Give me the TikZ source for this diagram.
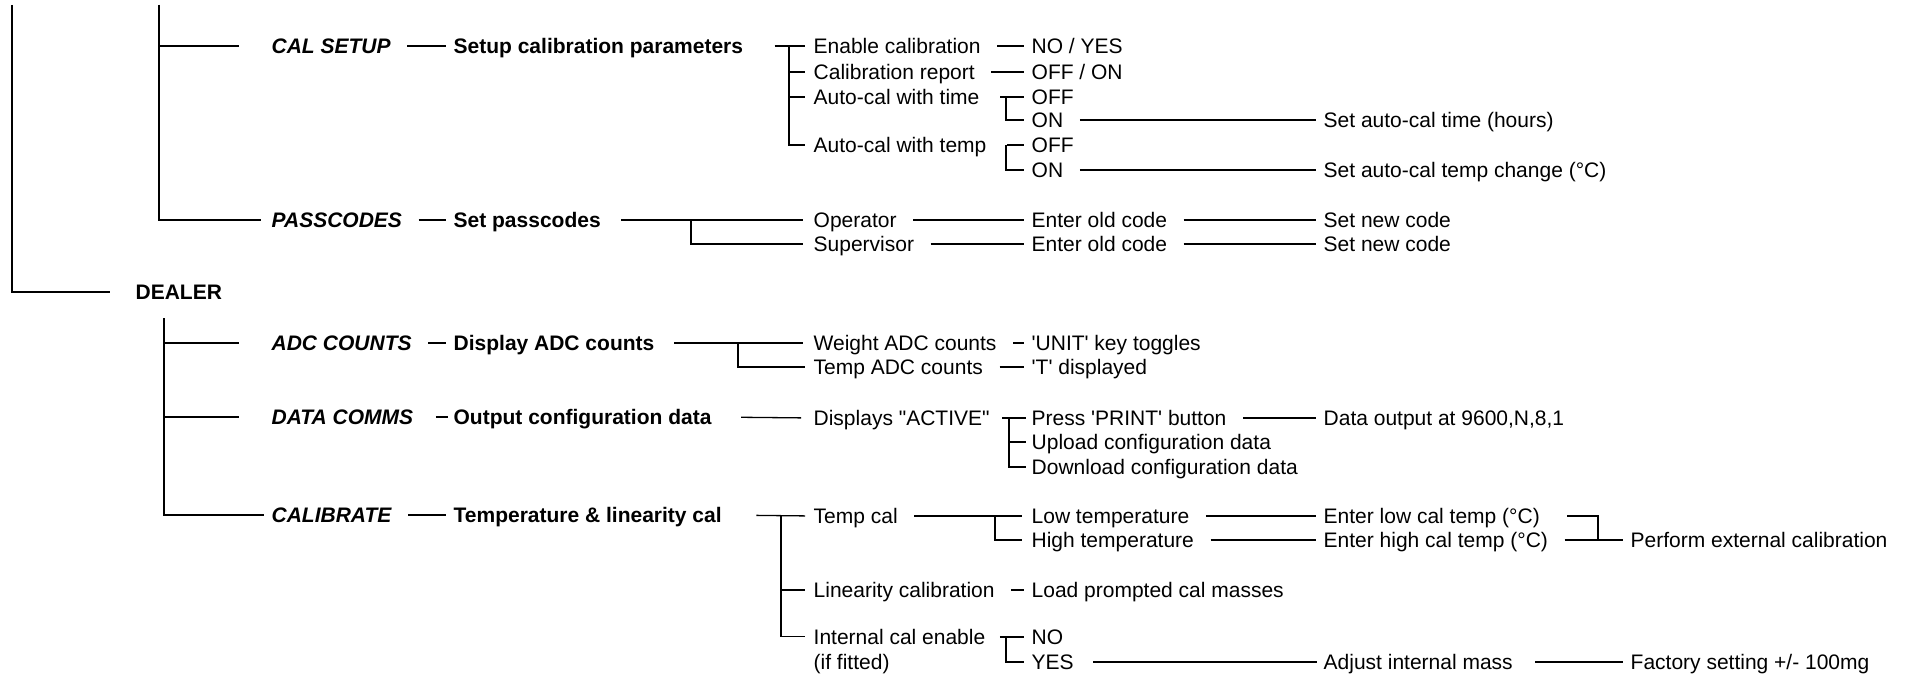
\documentclass[tikz,border=0pt]{standalone}
\usepackage{fontspec}
\setmainfont{Liberation Sans}
\newcommand{\menufont}{\fontsize{21}{25}\selectfont}

\begin{document}
\begin{tikzpicture}[x=1pt,y=-1pt,line width=1.3pt,
    item/.style={font=\menufont,inner sep=0pt,text height=15pt,text depth=0pt,anchor=west},
    head/.style={item,font=\menufont\bfseries},
    menu/.style={item,font=\menufont\bfseries\itshape},
    link/.style={shorten <=16pt,shorten >=7pt},
    stem/.style={shorten >=8pt},
  ]
  \useasboundingbox (0,0) rectangle (1910,676);

  % level headings
  \node[head] (dealer)    at (135,292) {DEALER};
  \node[menu] (calsetup)  at (271,46)  {CAL SETUP};
  \node[menu] (passcodes) at (271,220) {PASSCODES};
  \node[menu] (adccounts) at (271,343) {ADC COUNTS};
  \node[menu] (datacomms) at (271,417) {DATA COMMS};
  \node[menu] (calibrate) at (271,515) {CALIBRATE};

  \node[head] (setupcal) at (453,46)  {Setup calibration parameters};
  \node[head] (setpass)  at (453,220) {Set passcodes};
  \node[head] (dispadc)  at (453,343) {Display ADC counts};
  \node[head] (outconf)  at (453,417) {Output configuration data};
  \node[head] (tempcal)  at (453,515) {Temperature \& linearity cal};

  % cal setup
  \node[item] (enable)    at (813,46)   {Enable calibration};
  \node[item] (calreport) at (813,72)   {Calibration report};
  \node[item] (autotime)  at (813,97)   {Auto-cal with time};
  \node[item] (autotemp)  at (813,145)  {Auto-cal with temp};
  \node[item] (noyes)     at (1031,46)  {NO / YES};
  \node[item] (offon)     at (1031,72)  {OFF / ON};
  \node[item] (offtime)   at (1031,97)  {OFF};
  \node[item] (ontime)    at (1031,120) {ON};
  \node[item] (offtemp)   at (1031,145) {OFF};
  \node[item] (ontemp)    at (1031,170) {ON};
  \node[item] (settime)   at (1323,120) {Set auto-cal time (hours)};
  \node[item] (settemp)   at (1323,170) {Set auto-cal temp change (°C)};

  % passcodes
  \node[item] (operator)   at (813,220)  {Operator};
  \node[item] (supervisor) at (813,244)  {Supervisor};
  \node[item] (oldop)      at (1031,220) {Enter old code};
  \node[item] (oldsup)     at (1031,244) {Enter old code};
  \node[item] (newop)      at (1323,220) {Set new code};
  \node[item] (newsup)     at (1323,244) {Set new code};

  % adc counts
  \node[item] (weightadc) at (813,343)  {Weight ADC counts};
  \node[item] (tempadc)   at (813,367)  {Temp ADC counts};
  \node[item] (unitkey)   at (1031,343) {\textquotesingle UNIT\textquotesingle{} key toggles};
  \node[item] (tdisp)     at (1031,367) {\textquotesingle T\textquotesingle{} displayed};

  % data comms
  \node[item] (active)   at (813,418)  {Displays \textquotedbl ACTIVE\textquotedbl};
  \node[item] (press)    at (1031,418) {Press \textquotesingle PRINT\textquotesingle{} button};
  \node[item] (upload)   at (1031,442) {Upload configuration data};
  \node[item] (download) at (1031,467) {Download configuration data};
  \node[item] (dataout)  at (1323,418) {Data output at 9600,N,8,1};

  % calibrate
  \node[item] (tcal)      at (813,516)  {Temp cal};
  \node[item] (linearity) at (813,590)  {Linearity calibration};
  \node[font=\menufont,inner sep=0pt,align=left,anchor=north west] (internal)
        at (813,629) {Internal cal enable\\(if fitted)};
  \node[item] (lowtemp)   at (1031,516) {Low temperature};
  \node[item] (hightemp)  at (1031,540) {High temperature};
  \node[item] (loadmass)  at (1031,590) {Load prompted cal masses};
  \node[item] (intno)     at (1031,637) {NO};
  \node[item] (intyes)    at (1031,662) {YES};
  \node[item] (enterlow)  at (1323,516) {Enter low cal temp (°C)};
  \node[item] (enterhigh) at (1323,540) {Enter high cal temp (°C)};
  \node[item] (adjust)    at (1323,662) {Adjust internal mass};
  \node[item] (perform)   at (1630,540) {Perform external calibration};
  \node[item] (factory)   at (1630,662) {Factory setting +/- 100mg};

  % trunks
  \coordinate (top)  at (12,5);
  \coordinate (user) at (159,5);
  \coordinate (dtop) at (164,318);
  \draw[stem,shorten >=25pt] (top) |- (dealer.west);
  \draw[stem,shorten >=32pt] (user) |- (calsetup.west);
  \draw[stem,shorten >=10pt] (user) |- (passcodes.west);
  \draw[stem,shorten >=32pt] (dtop) |- (adccounts.west);
  \draw[stem,shorten >=32pt] (dtop) |- (datacomms.west);
  \draw[stem,shorten >=7pt]  (dtop) |- (calibrate.west);

  % plain links
  \foreach \a/\b in {calsetup/setupcal,passcodes/setpass,adccounts/dispadc,
                     calibrate/tempcal,enable/noyes,calreport/offon,
                     operator/oldop,supervisor/oldsup,oldop/newop,oldsup/newsup,
                     weightadc/unitkey,tempadc/tdisp,press/dataout,
                     lowtemp/enterlow,hightemp/enterhigh,enterhigh/perform,
                     linearity/loadmass,ontime/settime,ontemp/settemp}
    \draw[link] (\a.east) -- (\b.west);

  % forks
  \draw[link,shorten <=31pt,shorten >=8pt] (setupcal.east) -- (enable.west);
  \coordinate (b1) at (789,46);
  \foreach \n in {calreport,autotime,autotemp}
    \draw[stem] (b1) |- (\n.west);

  \draw[link,shorten <=20pt] (autotime.east) -- (offtime.west);
  \coordinate (b2) at (1006,97);
  \draw[stem,shorten >=7pt] (b2) |- (ontime.west);
  \draw[link,shorten <=20pt] (autotemp.east) -- (offtemp.west);
  \coordinate (b3) at (1006,145);
  \draw[stem,shorten >=7pt] (b3) |- (ontemp.west);

  \draw[link,shorten <=20pt,shorten >=10pt] (setpass.east) -- (operator.west);
  \coordinate (b4) at (691,220);
  \draw[stem,shorten >=10pt] (b4) |- (supervisor.west);

  \draw[link,shorten <=19pt,shorten >=10pt] (dispadc.east) -- (weightadc.west);
  \coordinate (b5) at (738,343);
  \draw[stem] (b5) |- (tempadc.west);

  \draw[link,shorten <=22pt,shorten >=5pt] (datacomms.east) -- (outconf.west);
  \draw[link,shorten <=29pt,shorten >=12pt] (outconf.east) -- (active.west);
  \draw[link,shorten <=12pt,shorten >=5pt] (active.east) -- (press.west);
  \coordinate (b6) at (1009,418);
  \foreach \n in {upload,download}
    \draw[stem,shorten >=5pt] (b6) |- (\n.west);

  \draw[link,shorten <=34pt,shorten >=8pt] (tempcal.east) -- (tcal.west);
  \coordinate (b7) at (781,516);
  \draw[stem] (b7) |- (linearity.west);
  \draw[stem] (b7) |- ([yshift=-7.5pt]internal.north west);

  \draw[link,shorten >=9pt] (tcal.east) -- (lowtemp.west);
  \coordinate (b9) at (995,516);
  \draw[stem,shorten >=9pt] (b9) |- (hightemp.west);
  \coordinate (b10) at (1598,540);
  \draw[shorten <=27pt] (enterlow.east) -| (b10);

  \draw[link,shorten <=14pt] (internal.east |- intno.west) -- (intno.west);
  \coordinate (b8) at (1006,637);
  \draw[stem,shorten >=7pt] (b8) |- (intyes.west);
  \draw[link,shorten <=19pt,shorten >=6pt] (intyes.east) -- (adjust.west);
  \draw[link,shorten <=22pt] (adjust.east) -- (factory.west);
\end{tikzpicture}
\end{document}
